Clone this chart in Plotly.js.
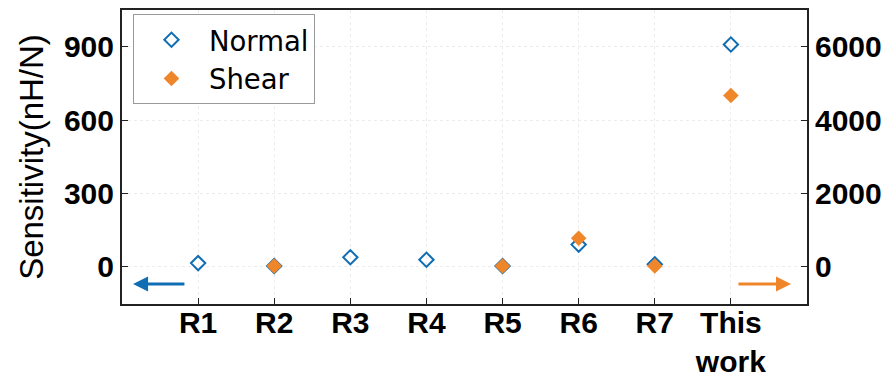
<!DOCTYPE html>
<html>
<head>
<meta charset="utf-8">
<script src="https://cdn.plot.ly/plotly-3.0.1.min.js"></script>
<style>html,body{margin:0;padding:0;background:#fff;}#chart{width:888px;height:379px;}</style>
</head>
<body>
<div id="chart"></div>
<script>
const categories = ['R1','R2','R3','R4','R5','R6','R7','This<br>work'];
const normalValues = [12, 0, 36, 26, 0, 88, 7, 910];
const shearValues = [null, 0, null, null, 0, 760, 0, 4670];
const leftTicks = [0, 300, 600, 900];
const rightTicks = [0, 2000, 4000, 6000];

const blue = '#0F6DB3';
const orange = '#F0862A';
const font = 'Liberation Sans, Arial, sans-serif';

const traces = [
  {
    x: categories, y: shearValues, yaxis: 'y2', name: 'Shear', type: 'scatter', mode: 'markers',
    marker: {symbol: 'diamond', size: 12, color: orange, line: {width: 0}},
    legendrank: 2, cliponaxis: false
  },
  {
    x: categories, y: normalValues, name: 'Normal', type: 'scatter', mode: 'markers',
    marker: {symbol: 'diamond-open', size: 11, color: blue, line: {width: 2, color: blue}},
    legendrank: 1, cliponaxis: false
  }
];

const axisCommon = {
  showline: true, linecolor: '#222', linewidth: 2,
  ticks: 'inside', ticklen: 6, tickcolor: '#222', tickwidth: 1,
  tickfont: {family: font, size: 30, color: '#000', weight: 'bold'},
  zeroline: false
};

const layout = {
  width: 888, height: 379,
  margin: {l: 122, r: 81, t: 10, b: 75},
  paper_bgcolor: '#fff', plot_bgcolor: '#fff',
  showlegend: true,
  legend: {
    x: 0.016, y: 0.985, xanchor: 'left', yanchor: 'top',
    bgcolor: '#fff', bordercolor: '#999', borderwidth: 1,
    font: {family: 'DejaVu Sans, sans-serif', size: 27.5, color: '#000'},
    itemwidth: 65, tracegroupgap: 0
  },
  xaxis: Object.assign({}, axisCommon, {
    type: 'category', categoryorder: 'array', categoryarray: categories,
    range: [-1, 8], mirror: true, ticklabelstandoff: -9,
    showgrid: true, gridcolor: '#ececec', griddash: 'dot', gridwidth: 1
  }),
  yaxis: Object.assign({}, axisCommon, {
    range: [-156, 1052], tickvals: leftTicks, mirror: false,
    showgrid: true, gridcolor: '#ececec', griddash: 'dot', gridwidth: 1,
    title: {text: 'Sensitivity(nH/N)', font: {family: font, size: 33, color: '#000'}, standoff: 10}
  }),
  yaxis2: Object.assign({}, axisCommon, {
    overlaying: 'y', side: 'right', range: [-1040, 7013], tickvals: rightTicks,
    showgrid: false
  }),
  annotations: [
    {x: -0.855, y: -74, xref: 'x', yref: 'y', ax: -0.16, ay: -74, axref: 'x', ayref: 'y',
     text: '', showarrow: true, arrowhead: 2, arrowsize: 1, arrowwidth: 3, arrowcolor: blue},
    {x: 7.79, y: -493, xref: 'x', yref: 'y2', ax: 7.08, ay: -493, axref: 'x', ayref: 'y2',
     text: '', showarrow: true, arrowhead: 2, arrowsize: 1, arrowwidth: 3, arrowcolor: orange}
  ]
};

Plotly.newPlot('chart', traces, layout, {displayModeBar: false, staticPlot: true});
</script>
</body>
</html>
